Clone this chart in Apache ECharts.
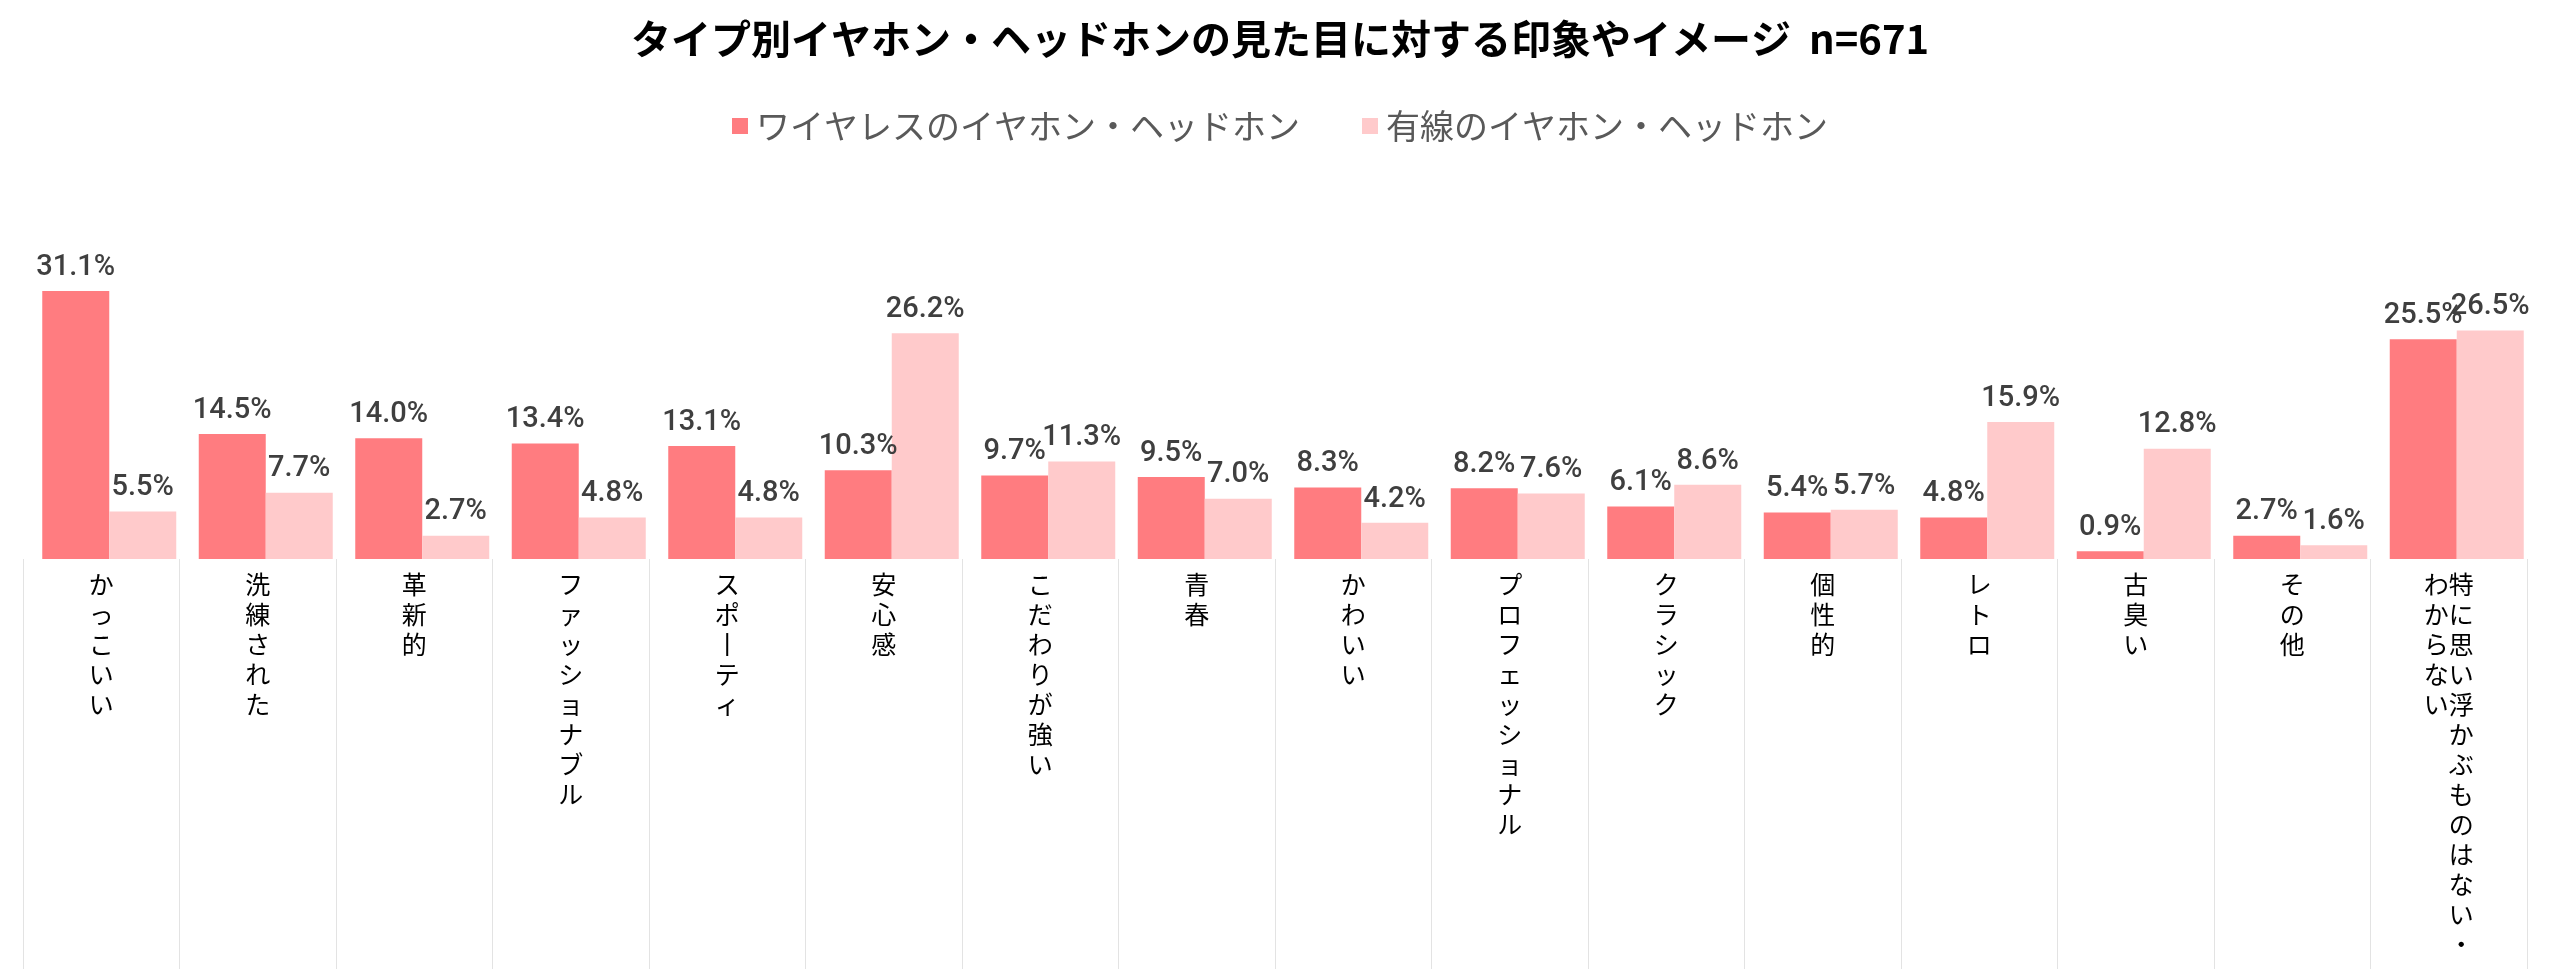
<!DOCTYPE html>
<html>
<head>
<meta charset="utf-8">
<script src="https://cdn.jsdelivr.net/npm/echarts@6/dist/echarts.min.js"></script>
<style>
html,body{margin:0;padding:0;background:#fff;}
#chart{width:2560px;height:970px;}
</style>
</head>
<body>
<div id="chart"></div>
<script>
const titleText = 'タイプ別イヤホン・ヘッドホンの見た目に対する印象やイメージ  n=671';
const seriesNames = ['ワイヤレスのイヤホン・ヘッドホン', '有線のイヤホン・ヘッドホン'];
const categories = ['かっこいい', '洗練された', '革新的', 'ファッショナブル', 'スポーティ', '安心感', 'こだわりが強い', '青春', 'かわいい', 'プロフェッショナル', 'クラシック', '個性的', 'レトロ', '古臭い', 'その他', '特に思い浮かぶものはない・わからない'];
const wireless = [31.1, 14.5, 14.0, 13.4, 13.1, 10.3, 9.7, 9.5, 8.3, 8.2, 6.1, 5.4, 4.8, 0.9, 2.7, 25.5];
const wired = [5.5, 7.7, 2.7, 4.8, 4.8, 26.2, 11.3, 7.0, 4.2, 7.6, 8.6, 5.7, 15.9, 12.8, 1.6, 26.5];
const colors = ['#FF7C80', '#FFCACB'];

function verticalText(s) {
  const chars = Array.from(s.replace(/\u30FC/g, '\u4E28'));
  const maxPerCol = 13;
  const cols = [];
  for (let i = 0; i < chars.length; i += maxPerCol) cols.push(chars.slice(i, i + maxPerCol));
  cols.reverse(); // vertical writing: columns run right-to-left
  const maxRows = Math.max(...cols.map(c => c.length));
  const lines = [];
  for (let r = 0; r < maxRows; r++) {
    let line = '';
    for (const c of cols) line += (c[r] || '\u3000');
    lines.push(line);
  }
  return lines.join('\n');
}

const chart = echarts.init(document.getElementById('chart'));
const labelFont = "Roboto,'Noto Sans',sans-serif";
const cjk = "'Noto Sans CJK JP','Noto Sans',sans-serif";
const yMax = 35;
const gridTop = 559 - 8.62 * yMax;

const barLabel = {
  show: true, position: 'top', distance: 9,
  formatter: p => p.value.toFixed(1) + '%',
  fontFamily: labelFont, fontSize: 29, fontWeight: 500, color: '#3f3f3f'
};

chart.setOption({
  animation: false,
  backgroundColor: '#ffffff',
  title: {
    text: titleText,
    left: 'center',
    top: 14,
    textStyle: { fontFamily: cjk, fontSize: 40, fontWeight: 'bold', color: '#000000' }
  },
  legend: {
    data: seriesNames,
    top: 104,
    left: 'center',
    itemWidth: 16,
    itemHeight: 16,
    itemGap: 62,
    icon: 'rect',
    textStyle: { fontFamily: cjk, fontSize: 34, color: '#595959', padding: [0, 0, 0, 3] }
  },
  grid: [
    { left: 31, right: 25, top: gridTop, bottom: 970 - 559, containLabel: false },
    { left: 23, right: 33, top: gridTop, bottom: 970 - 559, containLabel: false }
  ],
  xAxis: [
    {
      type: 'category', gridIndex: 0, data: categories,
      axisLine: { show: false }, axisTick: { show: false }, axisLabel: { show: false }, splitLine: { show: false }
    },
    {
      type: 'category', gridIndex: 1, data: categories,
      offset: 6,
      axisLine: { show: false },
      axisTick: { show: true, length: 410, lineStyle: { color: '#e3e3e3', width: 1 } },
      axisLabel: {
        interval: 0, margin: 4,
        fontFamily: cjk, fontSize: 25, lineHeight: 30, color: '#000000',
        verticalAlign: 'top',
        formatter: v => verticalText(v)
      },
      splitLine: { show: false }
    }
  ],
  yAxis: [
    { type: 'value', gridIndex: 0, min: 0, max: yMax, show: false },
    { type: 'value', gridIndex: 1, min: 0, max: yMax, show: false }
  ],
  series: [
    {
      name: seriesNames[0], type: 'bar', xAxisIndex: 0, yAxisIndex: 0,
      data: wireless, barWidth: 67, barGap: '0%',
      itemStyle: { color: colors[0] },
      label: barLabel
    },
    {
      name: seriesNames[1], type: 'bar', xAxisIndex: 0, yAxisIndex: 0,
      data: wired, barWidth: 67, barGap: '0%',
      itemStyle: { color: colors[1] },
      label: barLabel
    }
  ]
});
</script>
</body>
</html>
